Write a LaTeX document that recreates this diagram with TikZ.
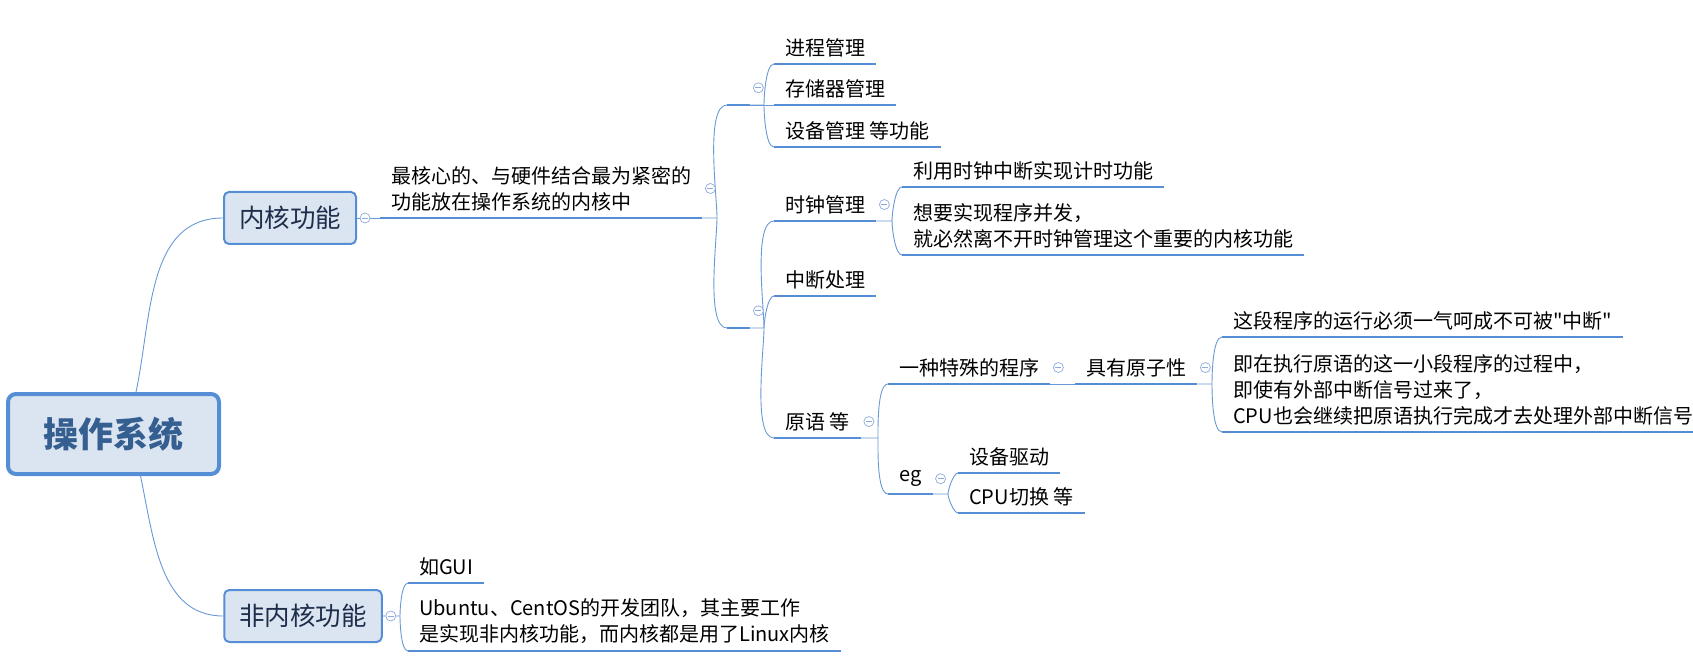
\documentclass[tikz,border=0pt]{standalone}
\usepackage{fontspec}
\setmainfont{Noto Sans CJK SC}[Ligatures=TeXOff]
\usepackage{xcolor}
\usepackage{tikz}

\definecolor{mapblue}{RGB}{85,142,213}
\definecolor{linkblue}{RGB}{105,152,214}
\definecolor{boxfill}{RGB}{219,229,241}
\definecolor{roottext}{RGB}{54,95,145}
\definecolor{maintext}{RGB}{30,45,75}
\definecolor{foldblue}{RGB}{140,170,220}

\begin{document}
\begin{tikzpicture}[x=1pt, y=1pt,
        root/.style={draw=mapblue, line width=4pt, fill=boxfill, rounded corners=8pt,
            minimum width=211pt, minimum height=80pt, text=roottext,
            font=\bfseries\fontsize{35}{40}\selectfont},
        main/.style={draw=mapblue, line width=2pt, fill=boxfill, rounded corners=5pt,
            minimum height=52pt, inner xsep=15pt, text=maintext,
            font=\fontsize{25.5}{30}\selectfont},
        topic/.style={anchor=south west, inner xsep=11pt, inner ysep=7pt, align=left,
            font=\fontsize{20}{26}\selectfont},
        blank/.style={anchor=south west, minimum width=23pt, minimum height=34pt, inner sep=0pt},
        uline/.style={mapblue, line width=2.8pt},
        link/.style={linkblue, line width=0.9pt},
        brup/.style={out=90, in=180, looseness=0.5},
        brdn/.style={out=-90, in=180, looseness=0.5},
        fold/.style={circle, draw=foldblue, fill=white, line width=0.7pt, minimum size=10pt, inner sep=0pt,
            path picture={\draw[foldblue, line width=0.7pt]
                ([xshift=-3pt]path picture bounding box.center) -- ([xshift=3pt]path picture bounding box.center);}}]
    \useasboundingbox (0,0) rectangle (1693,657);

    % boxes
    \node[root] (os) at (113.5,223) {操作系统};
    \node[main] (kern) at (290,439) {内核功能};
    \node[main] (nonk) at (303,41) {非内核功能};

    % kernel side
    \node[topic] (core) at (380,439) {最核心的、与硬件结合最为紧密的\\功能放在操作系统的内核中};
    \node[blank] (g1) at (727,552) {};
    \node[blank] (g2) at (727,329) {};
    \node[topic] (proc) at (774,593) {进程管理};
    \node[topic] (mem) at (774,552) {存储器管理};
    \node[topic] (dev) at (774,510) {设备管理 等功能};
    \node[topic] (clock) at (774,436) {时钟管理};
    \node[topic] (intr) at (774,361) {中断处理};
    \node[topic] (prim) at (774,219) {原语 等};
    \node[topic] (tick) at (902,470) {利用时钟中断实现计时功能};
    \node[topic] (conc) at (902,402) {想要实现程序并发，\\就必然离不开时钟管理这个重要的内核功能};
    \node[topic] (spec) at (888,273) {一种特殊的程序};
    \node[topic] (eg) at (888,163) {eg};
    \node[topic] (atom) at (1075,273) {具有原子性};
    \node[topic] (once) at (1222,320) {这段程序的运行必须一气呵成不可被"中断"};
    \node[topic] (cpu) at (1222,225) {即在执行原语的这一小段程序的过程中，\\即使有外部中断信号过来了，\\CPU也会继续把原语执行完成才去处理外部中断信号};
    \node[topic] (drv) at (958,184) {设备驱动};
    \node[topic] (swi) at (958,144) {CPU切换 等};

    % non-kernel side
    \node[topic] (gui) at (408,74) {如GUI};
    \node[topic] (ubu) at (408,6) {Ubuntu、CentOS的开发团队，其主要工作\\是实现非内核功能，而内核都是用了Linux内核};

    \foreach \n in {core,g1,g2,proc,mem,dev,clock,intr,prim,tick,conc,spec,eg,atom,once,cpu,drv,swi,gui,ubu}
        \draw[uline] (\n.south west) -- (\n.south east);

    % connectors
    \draw[link] ([xshift=22.5pt]os.north) to[out=78, in=180] (kern.west);
    \draw[link] ([xshift=27pt]os.south) to[out=-78, in=180] (nonk.west);
    \draw[link] (kern.east) -- (core.south west);
    \foreach \p/\a/\b in {core/g1/g2, g1/proc/dev, g2/clock/prim, clock/tick/conc,
            prim/spec/eg, atom/once/cpu, eg/drv/swi}{
        \path (\a.south west |- \p.south east) ++(-10,0) coordinate (j\p);
        \draw[link] (\p.south east) -- (j\p) to[brup] (\a.south west);
        \draw[link] (j\p) to[brdn] (\b.south west);
    }
    \draw[link] (g1.south east) -- (mem.south west);
    \draw[link] (jg2) to[brup] (intr.south west);
    \draw[link] (spec.south east) -- (atom.south west);
    \path (gui.south west |- nonk.east) ++(-8,0) coordinate (jnonk);
    \draw[link] (nonk.east) -- (jnonk) to[brup] (gui.south west);
    \draw[link] (jnonk) to[brdn] (ubu.south west);

    \foreach \p in {kern,nonk,core,g1,g2,clock,prim,spec,atom,eg}
        \node[fold] (f\p) at ([xshift=8pt]\p.east) {};
\end{tikzpicture}
\end{document}
